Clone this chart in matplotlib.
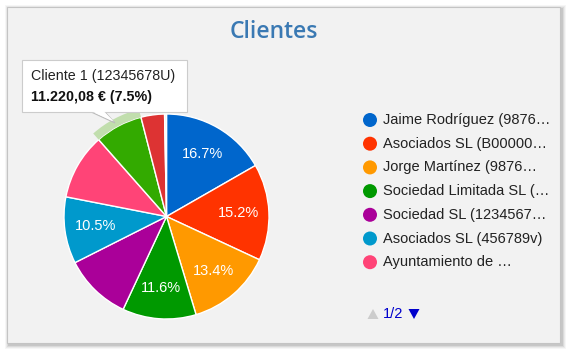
import numpy as np
import matplotlib.pyplot as plt
from matplotlib.patches import Rectangle, Circle, Polygon, Wedge

W, H = 567, 351

# data
shares = [16.7, 15.2, 13.4, 11.6, 10.6, 10.5, 10.4, 7.5, 3.7, 0.3]
colors = ['#0066cc', '#ff3300', '#ff9900', '#009900', '#aa0099',
          '#0099cc', '#ff4477', '#33aa00', '#dd3333', '#eeeeee']
shown_pct = [True, True, True, True, False, True, False, False, False, False]
legend_labels = ['Jaime Rodríguez (9876…', 'Asociados SL (B00000…',
                 'Jorge Martínez (9876…', 'Sociedad Limitada SL (…',
                 'Sociedad SL (1234567…', 'Asociados SL (456789v)',
                 'Ayuntamiento de …']
hover_idx = 7
tooltip_title = 'Cliente 1 (12345678U)'
tooltip_value = '11.220,08 € (7.5%)'

plt.rcParams['font.family'] = ['Liberation Sans', 'DejaVu Sans']

fig = plt.figure(figsize=(W / 100, H / 100), dpi=100)
fig.patch.set_facecolor('white')

# background layer in pixel coords (y down)
bg = fig.add_axes([0, 0, 1, 1], zorder=0)
bg.set_xlim(0, W)
bg.set_ylim(H, 0)
bg.axis('off')

# card with soft shadow
for i, a in enumerate([0.05, 0.07, 0.10, 0.14]):
    d = 4 - i
    bg.add_patch(Rectangle((7 - d + 1.5, 7 - d + 1.5), 553 + 2 * d, 336 + 2 * d,
                           facecolor='#555555', edgecolor='none', alpha=a))
bg.add_patch(Rectangle((7, 7), 553, 336, facecolor='#f2f2f2',
                       edgecolor='#c4c4c4', linewidth=0.8))

bg.text(273.5, 32, 'Clientes', ha='center', va='center', fontsize=16.5,
        color='#3a79b3', family='Open Sans', fontweight='semibold')

# legend
for i, lab in enumerate(legend_labels):
    y = 120 + i * 23.7
    bg.add_patch(Circle((370, y), 7, facecolor=colors[i], edgecolor='none'))
    bg.text(383, y, lab, ha='left', va='center', fontsize=10.5, color='#222222')

# pagination
bg.add_patch(Polygon([(367.5, 319), (378.5, 319), (373, 309)], closed=True,
                     facecolor='#cccccc', edgecolor='none'))
bg.text(383, 314, '1/2', ha='left', va='center', fontsize=10.5, color='#0000cc')
bg.add_patch(Polygon([(408.5, 309), (419.5, 309), (414, 319)], closed=True,
                     facecolor='#0000cc', edgecolor='none'))

# pie
cx, cy, r = 166.5, 216.5, 102.5
pax = fig.add_axes([(cx - r) / W, 1 - (cy + r) / H, 2 * r / W, 2 * r / H], zorder=1)
wedges, texts, autotexts = pax.pie(
    shares, colors=colors, startangle=90, counterclock=False,
    autopct='%.1f%%', pctdistance=0.70,
    wedgeprops=dict(edgecolor='white', linewidth=1.0),
    textprops=dict(color='white', fontsize=10.5))
for t, show in zip(autotexts, shown_pct):
    t.set_visible(show)
pax.set_xlim(-1, 1)
pax.set_ylim(-1, 1)
pax.axis('off')

# hover halo on the hovered slice
w = wedges[hover_idx]
pax.add_patch(Wedge((0, 0), 1.08, w.theta1, w.theta2, width=0.08,
                    facecolor='#b5d99c', edgecolor='none', alpha=0.8,
                    clip_on=False))

# tooltip layer
top = fig.add_axes([0, 0, 1, 1], zorder=2)
top.set_xlim(0, W)
top.set_ylim(H, 0)
top.axis('off')
top.patch.set_alpha(0)
top.add_patch(Rectangle((23, 61), 165, 52, facecolor='#999999',
                        edgecolor='none', alpha=0.25))
top.add_patch(Polygon([(89, 111), (104, 111), (115, 123)], closed=True,
                      facecolor='white', edgecolor='#bbbbbb', linewidth=0.8))
top.add_patch(Rectangle((22, 60), 165, 52, facecolor='white',
                        edgecolor='#cccccc', linewidth=0.8))
top.add_patch(Polygon([(90, 110.5), (103, 110.5), (114, 121.5)], closed=True,
                      facecolor='white', edgecolor='none'))
top.text(31, 76, tooltip_title, ha='left', va='center', fontsize=10.3,
         color='#222222')
top.text(31, 97, tooltip_value, ha='left', va='center', fontsize=10.3,
         color='#111111', fontweight='bold')

fig.savefig('out.png', dpi=100)
